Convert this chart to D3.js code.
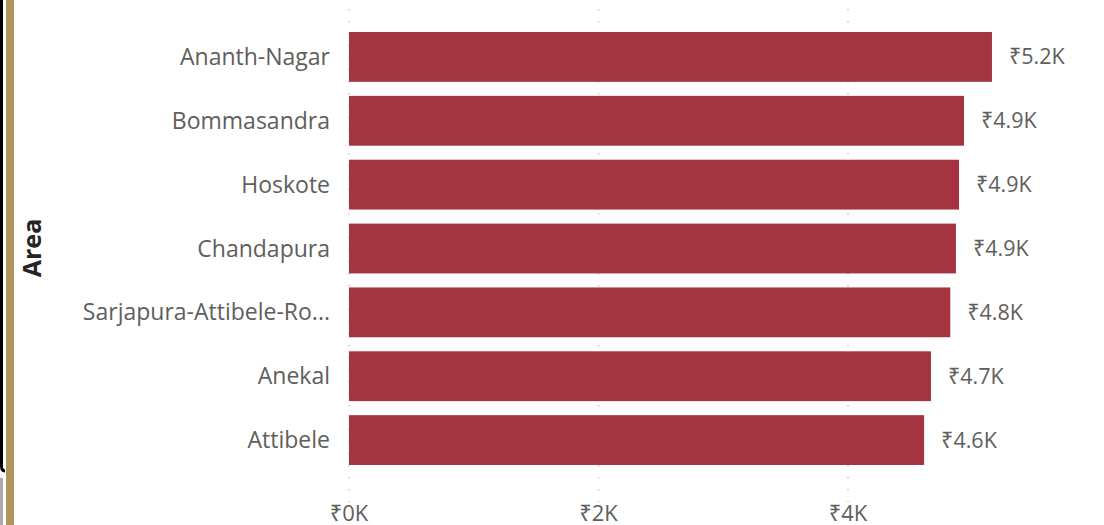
<!DOCTYPE html>
<html>
<head>
<meta charset="utf-8">
<script src="https://cdn.jsdelivr.net/npm/d3@7"></script>
<style>
  html, body { margin: 0; padding: 0; background: #ffffff; }
  svg { display: block; }
  text { font-family: "Open Sans", "Noto Sans", sans-serif; }
</style>
</head>
<body>
<svg id="chart" width="1104" height="525"></svg>
<script>
const categories = ["Ananth-Nagar", "Bommasandra", "Hoskote", "Chandapura", "Sarjapura-Attibele-Road", "Anekal", "Attibele"];
const values = [5154, 4930, 4890, 4865, 4820, 4665, 4610];
const xTicks = [0, 2000, 4000];
const axisTitle = "Area";

const svg = d3.select("#chart");
const W = 1104, H = 525;

// left decorations
svg.append("path").attr("d", "M1.5,-5 V466 Q1.5,471 5,471").attr("fill", "none").attr("stroke", "#000").attr("stroke-width", 3);
svg.append("rect").attr("x", 0).attr("y", 478).attr("width", 3).attr("height", 47).attr("fill", "#aaaaaa");
svg.append("rect").attr("x", 6).attr("y", 0).attr("width", 8).attr("height", H).attr("fill", "#B5955F");

const x = d3.scaleLinear().domain([0, 4000]).range([349, 848]);
const y = d3.scaleBand().domain(categories).range([25, 472]).paddingInner(0.22).paddingOuter(0.11);

// gridlines
const grid = svg.append("g");
grid.selectAll("line").data(xTicks).join("line")
  .attr("x1", d => x(d)).attr("x2", d => x(d))
  .attr("y1", 9).attr("y2", 502)
  .attr("stroke", "#c8c8c8").attr("stroke-width", 1.5)
  .attr("stroke-dasharray", "1.5,10.5");

// bars
svg.append("g").selectAll("rect").data(categories).join("rect")
  .attr("x", x(0))
  .attr("y", d => y(d))
  .attr("width", (d, i) => x(values[i]) - x(0))
  .attr("height", y.bandwidth())
  .attr("fill", "#A33440");

const fmt = v => "₹" + (v / 1000).toFixed(1) + "K";
const trunc = s => s.length > 21 ? s.slice(0, 21) + "..." : s;

// value labels
svg.append("g").selectAll("text").data(categories).join("text")
  .attr("x", (d, i) => x(values[i]) + 17)
  .attr("y", d => y(d) + y.bandwidth() / 2)
  .attr("dy", "0.35em")
  .attr("font-size", 21.5)
  .attr("fill", "#605E5C")
  .text((d, i) => fmt(values[i]));

// category labels
svg.append("g").selectAll("text").data(categories).join("text")
  .attr("x", 330)
  .attr("y", d => y(d) + y.bandwidth() / 2)
  .attr("dy", "0.35em")
  .attr("text-anchor", "end")
  .attr("font-size", 23)
  .attr("fill", "#605E5C")
  .text(d => trunc(d));

// x tick labels
svg.append("g").selectAll("text").data(xTicks).join("text")
  .attr("x", d => x(d))
  .attr("y", 513)
  .attr("dy", "0.35em")
  .attr("text-anchor", "middle")
  .attr("font-size", 22)
  .attr("fill", "#605E5C")
  .text(d => "₹" + (d / 1000) + "K");

// axis title
svg.append("text")
  .attr("transform", "translate(32,248) rotate(-90)")
  .attr("text-anchor", "middle")
  .attr("dy", "0.35em")
  .attr("font-size", 25)
  .attr("font-weight", "bold")
  .attr("fill", "#252423")
  .text(axisTitle);
</script>
</body>
</html>
